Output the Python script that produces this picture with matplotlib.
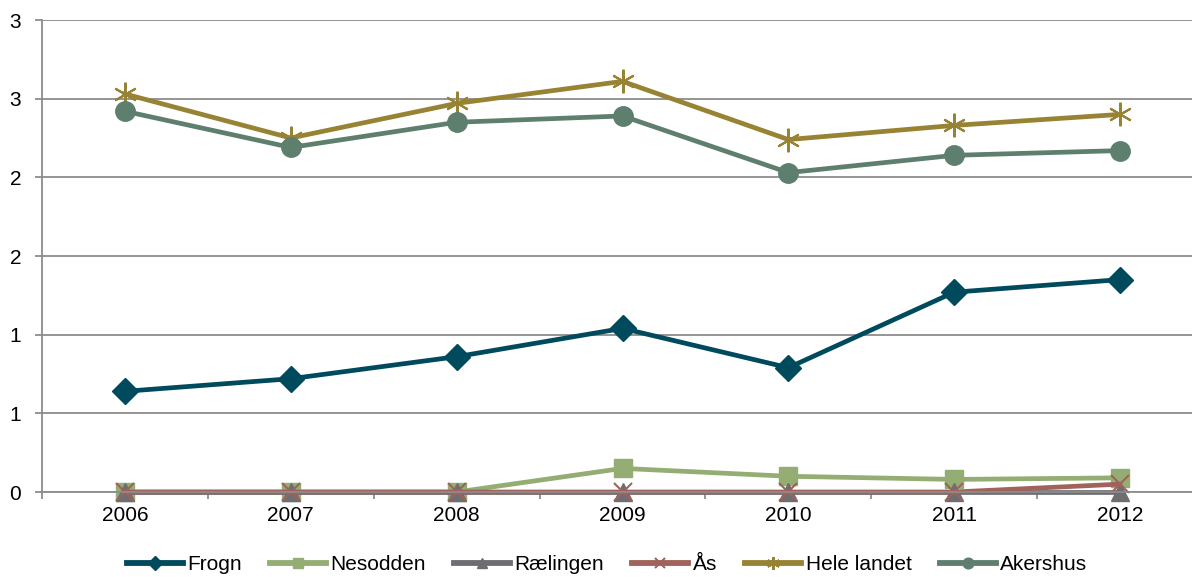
import matplotlib.pyplot as plt
from matplotlib.ticker import FixedLocator

plt.rcParams['font.family'] = ['Liberation Sans', 'DejaVu Sans']

# data
years = ["2006", "2007", "2008", "2009", "2010", "2011", "2012"]
frogn = [0.64, 0.72, 0.86, 1.04, 0.79, 1.27, 1.35]
nesodden = [0.0, 0.0, 0.0, 0.15, 0.10, 0.08, 0.09]
raelingen = [0.0, 0.0, 0.0, 0.0, 0.0, 0.0, 0.0]
aas = [0.0, 0.0, 0.0, 0.0, 0.0, 0.0, 0.05]
hele_landet = [2.53, 2.25, 2.47, 2.61, 2.24, 2.33, 2.40]
akershus = [2.42, 2.19, 2.35, 2.39, 2.03, 2.14, 2.17]

y_ticks = [0, 0.5, 1.0, 1.5, 2.0, 2.5, 3.0]
y_labels = ["0", "1", "1", "2", "2", "3", "3"]

series = [
    ("Frogn", frogn, "#004a5e", "D", 13),
    ("Nesodden", nesodden, "#93ad72", "s", 13),
    ("Rælingen", raelingen, "#6d6d72", "^", 13),
    ("Ås", aas, "#a0625a", "x", 13),
    ("Hele landet", hele_landet, "#978333", (6, 2, 0), 17),
    ("Akershus", akershus, "#5e7e6e", "o", 14),
]

fig = plt.figure(figsize=(11.92, 5.77), dpi=100)
ax = fig.add_axes([42 / 1192, 1 - 492 / 577, 1161 / 1192, 472 / 577])

x = list(range(len(years)))
for name, vals, col, mk, ms in series:
    ax.plot(x, vals, color=col, lw=3.4, marker=mk, markersize=ms,
            markerfacecolor=col, markeredgecolor=col,
            markeredgewidth=1.5 if mk in ("x", (6, 2, 0)) else 1,
            label=name, clip_on=False)

ax.set_xlim(-0.5, 6.5)
ax.set_ylim(0, 3.0)
ax.set_yticks(y_ticks)
ax.set_yticklabels(y_labels)
ax.set_xticks(x)
ax.set_xticklabels(years)
ax.xaxis.set_minor_locator(FixedLocator([i - 0.5 for i in range(len(years) + 1)]))

ax.grid(axis="y", color="#8c8c8c", lw=1.3)
ax.set_axisbelow(True)
for s in ("top", "right"):
    ax.spines[s].set_visible(False)
ax.spines["left"].set_color("#8c8c8c")
ax.spines["left"].set_linewidth(1.3)
ax.spines["bottom"].set_color("#8c8c8c")
ax.spines["bottom"].set_linewidth(1.3)

ax.tick_params(axis="y", which="major", length=5, width=1.3, color="#8c8c8c",
               labelsize=15, pad=10)
ax.tick_params(axis="x", which="major", length=0, labelsize=15, pad=10)
ax.tick_params(axis="x", which="minor", length=5, width=1.3, color="#8c8c8c")

handles, labels = ax.get_legend_handles_labels()
leg = fig.legend(handles, labels, loc="center", bbox_to_anchor=(607 / 1192, 1 - 565 / 577),
                 ncol=6, frameon=False, fontsize=15, handlelength=2.7,
                 handletextpad=0.2, columnspacing=1.35, markerscale=0.55)
for ln in leg.get_lines():
    ln.set_linewidth(4.2)

fig.savefig("out.png", dpi=100)
